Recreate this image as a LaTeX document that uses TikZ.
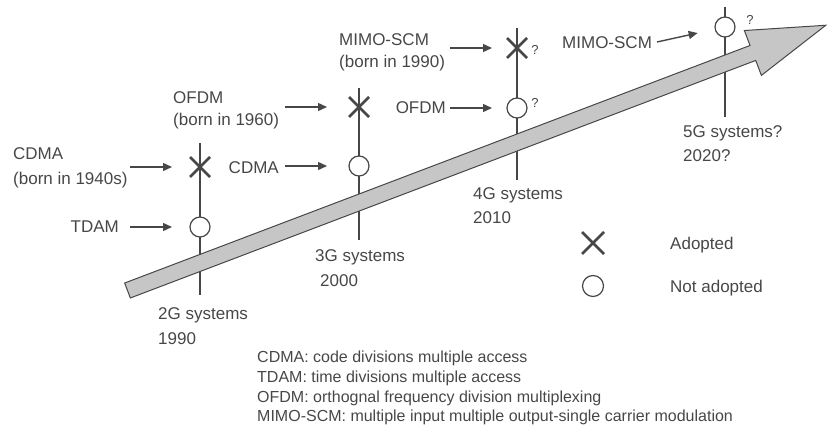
\documentclass[tikz,border=0pt]{standalone}
\usepackage{fontspec}
\setmainfont{Liberation Sans}
\usetikzlibrary{arrows.meta,shapes.misc}
\definecolor{ink}{HTML}{474747}
\definecolor{shaft}{HTML}{C6C6C6}
\begin{document}
\begin{tikzpicture}[x=1pt,y=-1pt,
  lbl/.style={anchor=west,inner sep=0pt,text height=12pt,text depth=0pt,text=ink,
    font=\fontsize{17}{20}\selectfont},
  note/.style={anchor=west,inner sep=0pt,text height=11.5pt,text depth=0pt,text=ink,
    font=\fontsize{16}{20}\selectfont},
  qm/.style={inner sep=0pt,text=ink,font=\fontsize{13}{15}\selectfont},
  tick/.style={draw=ink,line width=1.1pt},
  adopt/.style={draw=ink,cross out,line width=2.6pt,minimum size=20pt,inner sep=0pt,outer sep=0pt},
  notadopt/.style={draw=ink,circle,fill=white,line width=1.2pt,minimum size=20pt,inner sep=0pt,outer sep=0pt},
  ptr/.style={draw=ink,line width=1.4pt,-{Triangle[length=9pt,width=8pt]}}
]
\useasboundingbox (0,0) rectangle (827,441);

% generation time lines
\draw[tick] (200,143) -- (200,295);
\draw[tick] (359,88) -- (359,240);
\draw[tick] (517,28) -- (517,180);
\draw[tick] (725,7) -- (725,117);

% the big progress arrow
\begin{scope}[shift={(127.5,290.5)},rotate=20.8]
  \draw[draw=ink,fill=shaft,line width=1pt,line join=miter]
    (0,-8) -- (669,-8) -- (669,-24) -- (747,0) -- (669,24) -- (669,8) -- (0,8) -- cycle;
\end{scope}

% marks on the time lines
\node[adopt]    (x2g) at (200,167) {};
\node[notadopt] (o2g) at (200,227) {};
\node[adopt]    (x3g) at (359,107) {};
\node[notadopt] (o3g) at (359,166) {};
\node[adopt]    (x4g) at (517,48) {};
\node[notadopt] (o4g) at (517,108) {};
\node[notadopt] (o5g) at (725,27) {};
\node[qm] (q4x) at (535,50) {?};
\node[qm] (q4o) at (535,103) {?};
\node[qm] (q5o) at (750,20) {?};

% technology labels
\node[lbl] (cdma1) at (13,153) {CDMA};
\node[lbl] (cdma1b) at (13,178) {(born in 1940s)};
\node[lbl,anchor=east] (tdam) at (119,226) {TDAM};
\node[lbl] (ofdm1) at (173,98) {OFDM};
\node[lbl] (ofdm1b) at (173,120) {(born in 1960)};
\node[lbl,anchor=east] (cdma2) at (279,167) {CDMA};
\node[lbl] (mimo1) at (339,40) {MIMO-SCM};
\node[lbl] (mimo1b) at (339,62) {(born in 1990)};
\node[lbl,anchor=east] (ofdm2) at (446,108) {OFDM};
\node[lbl] (mimo2) at (562,43) {MIMO-SCM};

% arrows into the marks
\coordinate (s1) at (130,167);
\coordinate (s2) at (130,227);
\coordinate (s3) at (285,107);
\coordinate (s4) at (285,166);
\coordinate (s5) at (450,48);
\coordinate (s6) at (450,108);
\coordinate (s7) at (657,42);
\draw[ptr,shorten >=18pt] (s1) -- (x2g);
\draw[ptr,shorten >=18pt] (s2) -- (o2g);
\draw[ptr,shorten >=22pt] (s3) -- (x3g);
\draw[ptr,shorten >=22pt] (s4) -- (o3g);
\draw[ptr,shorten >=15pt] (s5) -- (x4g);
\draw[ptr,shorten >=15pt] (s6) -- (o4g);
\draw[ptr,shorten >=18pt] (s7) -- (o5g);

% generation labels
\node[lbl] (g2) at (158,313) {2G systems};
\node[lbl] (y2) at (158,338) {1990};
\node[lbl] (g3) at (315,255) {3G systems};
\node[lbl] (y3) at (320,280) {2000};
\node[lbl] (g4) at (473,193) {4G systems};
\node[lbl] (y4) at (473,217) {2010};
\node[lbl] (g5) at (683,132) {5G systems?};
\node[lbl] (y5) at (683,155) {2020?};

% legend
\node[adopt,minimum size=22pt] (kx) at (593,243) {};
\node[lbl] (kxt) at (670,243) {Adopted};
\node[notadopt,minimum size=21pt] (ko) at (593,286) {};
\node[lbl] (kot) at (670,286) {Not adopted};

% abbreviations
\node[note] (n1) at (257,357) {CDMA: code divisions multiple access};
\node[note] (n2) at (257,377) {TDAM: time divisions multiple access};
\node[note] (n3) at (257,397) {OFDM: orthognal frequency division multiplexing};
\node[note] (n4) at (257,416) {MIMO-SCM: multiple input multiple output-single carrier modulation};
\end{tikzpicture}
\end{document}
